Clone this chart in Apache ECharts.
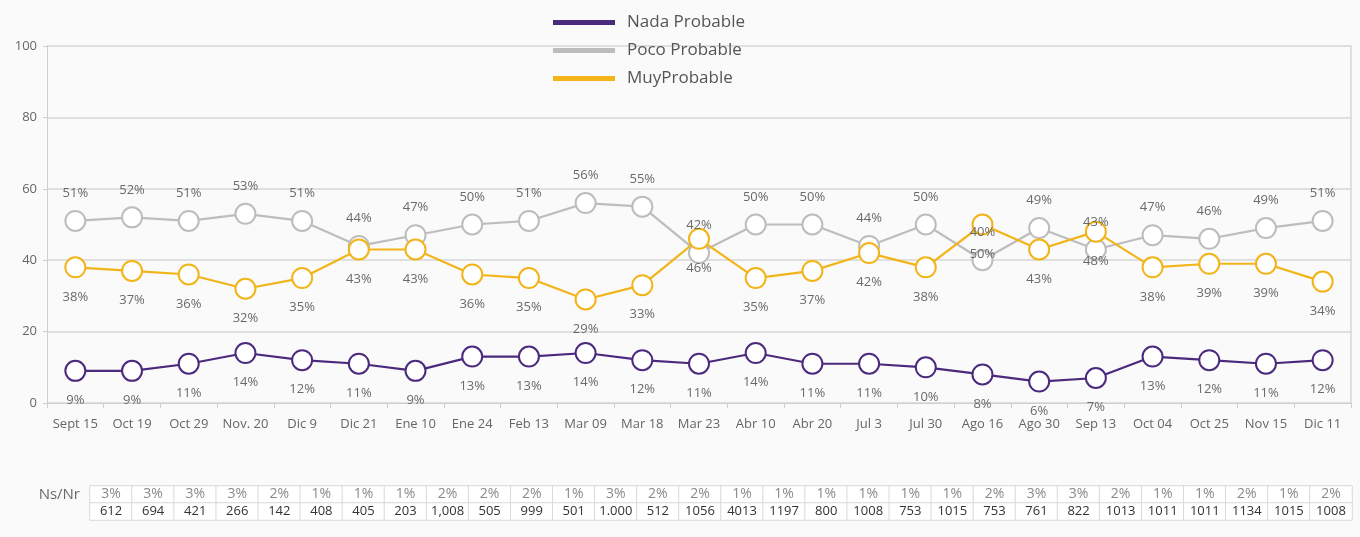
<!DOCTYPE html>
<html>
<head>
<meta charset="utf-8">
<script src="https://cdn.jsdelivr.net/npm/echarts@6/dist/echarts.min.js"></script>
<style>
html,body{margin:0;padding:0;background:#fafafa;}
#chart{width:1360px;height:537px;}
</style>
</head>
<body>
<div id="chart"></div>
<script>
const categories = ['Sept 15','Oct 19','Oct 29','Nov. 20','Dic 9','Dic 21','Ene 10','Ene 24','Feb 13','Mar 09','Mar 18','Mar 23','Abr 10','Abr 20','Jul 3','Jul 30','Ago 16','Ago 30','Sep 13','Oct 04','Oct 25','Nov 15','Dic 11'];
const nadaProbable = [9,9,11,14,12,11,9,13,13,14,12,11,14,11,11,10,8,6,7,13,12,11,12];
const pocoProbable = [51,52,51,53,51,44,47,50,51,56,55,42,50,50,44,50,40,49,43,47,46,49,51];
const muyProbable = [38,37,36,32,35,43,43,36,35,29,33,46,35,37,42,38,50,43,48,38,39,39,34];
const yTicks = [0,20,40,60,80,100];
const tableRows = ['Ns/Nr','Base:'];
const nsNr = [3,3,3,3,2,1,1,1,2,2,2,1,3,2,2,1,1,1,1,1,1,2,3,3,2,1,1,2,1,2];
const baseN = ['612','694','421','266','142','408','405','203','1,008','505','999','501','1.000','512','1056','4013','1197','800','1008','753','1015','753','761','822','1013','1011','1011','1134','1015','1008'];

const chart = echarts.init(document.getElementById('chart'));
const FONT = "'Open Sans', 'Noto Sans', sans-serif";
const colors = {nada:'#4b2a7e', poco:'#bdbdbd', muy:'#f2b418'};

function lineSeries(name, data, color, labelPos, dist, bw) {
  return {
    name, type:'line', data, xAxisIndex:0, yAxisIndex:0,
    symbol:'emptyCircle', symbolSize:20,
    lineStyle:{color, width:2.2},
    itemStyle:{color, borderColor:color, borderWidth:bw},
    label:{show:true, position:labelPos, distance:dist, formatter:'{c}%', color:'#6a6a6a', fontSize:13, fontFamily:FONT},
    emphasis:{disabled:true}
  };
}

const tableData = [];
nsNr.forEach((v,i)=>{ tableData.push([i,0,v]); tableData.push([i,1,0]); });

chart.setOption({
  backgroundColor:'#fafafa',
  animation:false,
  textStyle:{fontFamily:FONT},
  legend:{
    orient:'vertical', left:548, top:9, itemWidth:60, itemHeight:3, itemGap:11, icon:'rect',
    textStyle:{fontSize:17, color:'#555', fontFamily:FONT, padding:[0,0,0,8]},
    data:['Nada Probable','Poco Probable','MuyProbable']
  },
  grid:[
    {left:47, right:9, top:46, height:357},
    {left:90, right:8, top:486, height:34}
  ],
  xAxis:[
    {type:'category', gridIndex:0, data:categories, boundaryGap:true,
     axisLine:{lineStyle:{color:'#cfcfcf'}}, axisTick:{show:true, lineStyle:{color:'#cfcfcf'}, length:5},
     axisLabel:{color:'#666', fontSize:13, margin:15, fontFamily:FONT, interval:0}},
    {type:'category', gridIndex:1, data:nsNr.map((_,i)=>i), show:false}
  ],
  yAxis:[
    {type:'value', gridIndex:0, min:0, max:100, interval:20,
     axisLine:{show:true, lineStyle:{color:'#cfcfcf'}}, axisTick:{show:true, lineStyle:{color:'#cfcfcf'}, length:4},
     axisLabel:{color:'#666', fontSize:13, margin:10, fontFamily:FONT, formatter:v=>yTicks.includes(v)?String(v):''},
     splitLine:{show:true, lineStyle:{color:'#d6d6d6', width:1.5}}},
    {type:'value', gridIndex:0, min:0, max:100, position:'right',
     axisLine:{show:true, lineStyle:{color:'#d6d6d6', width:1.5}}, axisTick:{show:false}, axisLabel:{show:false}, splitLine:{show:false}},
    {type:'category', gridIndex:1, data:tableRows, inverse:true,
     axisLine:{show:false}, axisTick:{show:false}, splitLine:{show:false},
     axisLabel:{color:'#6a6a6a', fontSize:15, margin:10, fontFamily:FONT,
       formatter:v=> v==='Base:' ? '{b|'+v+'}' : v,
       rich:{b:{fontSize:15, color:'#555', padding:[28,0,0,0], fontFamily:FONT}}}}
  ],
  visualMap:{show:false, seriesIndex:3, min:0, max:100, inRange:{color:['#ffffff','#ffffff']}},
  series:[
    lineSeries('Nada Probable', nadaProbable, colors.nada, 'bottom', 12, 3.5),
    lineSeries('Poco Probable', pocoProbable, colors.poco, 'top', 10, 2.5),
    lineSeries('MuyProbable', muyProbable, colors.muy, 'bottom', 12, 2.5),
    {type:'heatmap', xAxisIndex:1, yAxisIndex:2, data:tableData,
     itemStyle:{borderColor:'#d9d9d9', borderWidth:1},
     label:{show:true, fontFamily:FONT, formatter:p=>{
        const [i,r] = p.value;
        return r===0 ? '{n|'+nsNr[i]+'%}' : '{b|'+baseN[i]+'}';
     }, rich:{n:{fontSize:14, color:'#8a8a8a', fontFamily:FONT}, b:{fontSize:13, color:'#333', fontFamily:FONT}}},
     emphasis:{disabled:true}}
  ]
});
</script>
</body>
</html>
